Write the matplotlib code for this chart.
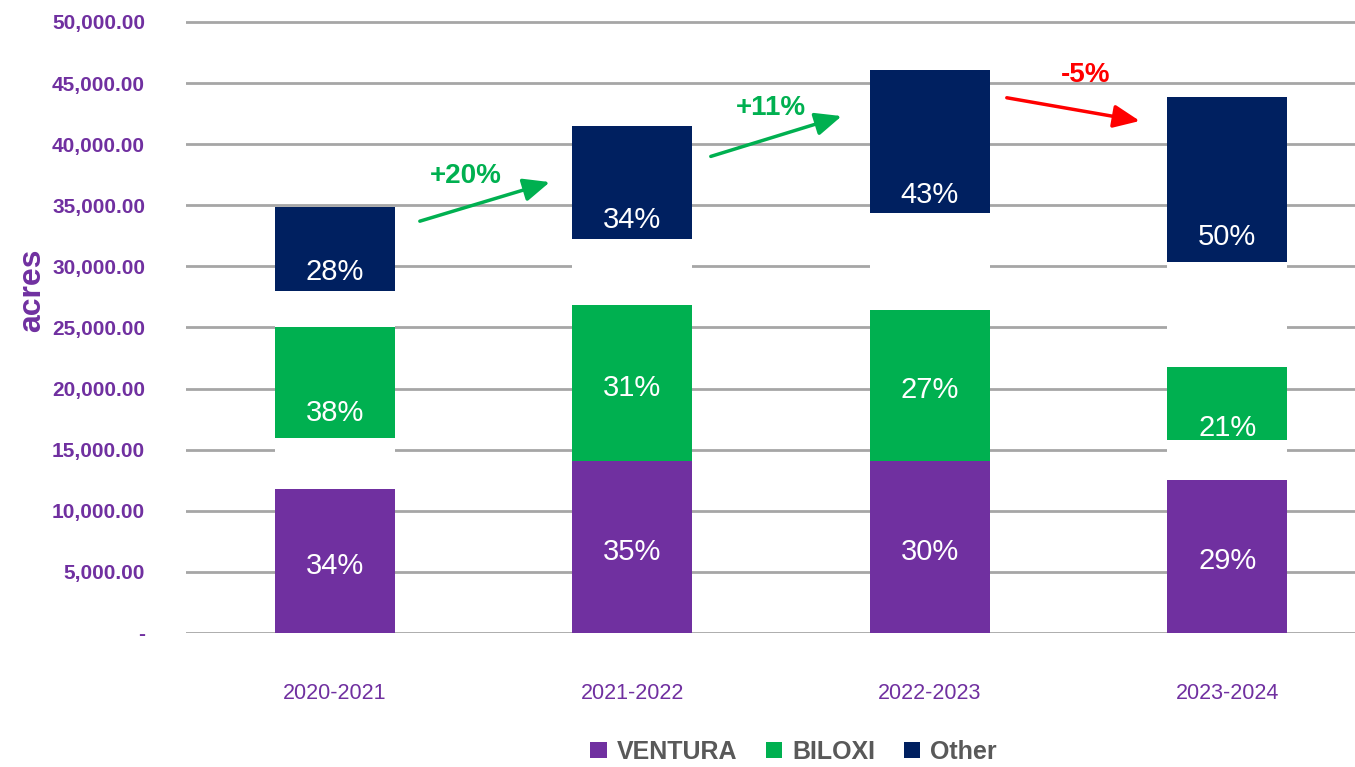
import matplotlib
matplotlib.use("Agg")
import matplotlib.pyplot as plt
from matplotlib.ticker import FuncFormatter

# ---- data (acres) ----
years = ["2020-2021", "2021-2022", "2022-2023", "2023-2024"]
ventura = [11780, 14080, 14080, 12520]
spacer1 = [4180, 0, 0, 3270]
biloxi = [9080, 12760, 12350, 5980]
spacer2 = [2950, 5400, 7940, 8590]
other = [6870, 9250, 11700, 13500]
ventura_pct = ["34%", "35%", "30%", "29%"]
biloxi_pct = ["38%", "31%", "27%", "21%"]
other_pct = ["28%", "34%", "43%", "50%"]
changes = ["+20%", "+11%", "-5%"]
change_colors = ["#00B050", "#00B050", "#FF0000"]

PURPLE = "#7030A0"
GREEN = "#00B050"
NAVY = "#002060"
GRID = "#A6A6A6"

plt.rcParams["font.family"] = ["Liberation Sans", "DejaVu Sans"]

W, H = 1355, 767
fig = plt.figure(figsize=(W / 100, H / 100), dpi=100)
ymax = 50300
ppu = 611 / 50000
top_px = 633 - ymax * ppu
ax = fig.add_axes([186 / W, (H - 633) / H, 1190 / W, (633 - top_px) / H])

x = list(range(len(years)))
bw = 0.403
b0 = [0] * 4
b1 = [v for v in ventura]
b2 = [b1[i] + spacer1[i] for i in x]
b3 = [b2[i] + biloxi[i] for i in x]
b4 = [b3[i] + spacer2[i] for i in x]

ax.bar(x, ventura, bw, bottom=b0, color=PURPLE, zorder=3, label="VENTURA")
ax.bar(x, spacer1, bw, bottom=b1, color="white", zorder=3)
ax.bar(x, biloxi, bw, bottom=b2, color=GREEN, zorder=3, label="BILOXI")
ax.bar(x, spacer2, bw, bottom=b3, color="white", zorder=3)
ax.bar(x, other, bw, bottom=b4, color=NAVY, zorder=3, label="Other")

off = -400
lab_kw = dict(ha="center", va="center", color="white", fontsize=21, zorder=5)
for i in x:
    ax.text(i, ventura[i] / 2 + off, ventura_pct[i], **lab_kw)
    ax.text(i, b1[i] + (spacer1[i] + biloxi[i]) / 2 + off, biloxi_pct[i], **lab_kw)
    ax.text(i, b3[i] + (spacer2[i] + other[i]) / 2 + off, other_pct[i], **lab_kw)

# change arrows between bars
arrows = [((0.286, 33700), (0.723, 36900), (0.44, 37400)),
          ((1.264, 39000), (1.704, 42300), (1.466, 43000)),
          ((2.259, 43800), (2.706, 41900), (2.524, 45700))]
for (s, e, t), lab, c in zip(arrows, changes, change_colors):
    ax.annotate("", xy=e, xytext=s,
                arrowprops=dict(arrowstyle="-|>,head_length=1.6,head_width=0.7",
                                color=c, lw=2.5, shrinkA=0, shrinkB=0), zorder=6)
    ax.text(t[0], t[1], lab, color=c, fontsize=20, fontweight="bold",
            ha="center", va="center", zorder=6)

ax.set_xlim(-0.5, 3.5)
ax.set_ylim(0, ymax)
ax.set_yticks(range(0, 50001, 5000))
ax.yaxis.set_major_formatter(FuncFormatter(lambda v, p: "-" if v == 0 else f"{v:,.2f}"))
ax.set_xticks(x)
ax.set_xticklabels(years)
for sp in ax.spines.values():
    sp.set_visible(False)
ax.grid(axis="y", color=GRID, lw=2, zorder=0)
ax.tick_params(axis="both", length=0)
ax.tick_params(axis="y", pad=29.5, labelsize=15, labelcolor=PURPLE)
ax.tick_params(axis="x", pad=36, labelsize=15.5, labelcolor=PURPLE)
for t in ax.get_yticklabels():
    t.set_fontweight("bold")
ax.set_ylabel("acres", color=PURPLE, fontsize=23, fontweight="bold")
ax.yaxis.set_label_coords(-0.117, 0.558)

leg = fig.legend(loc="center", bbox_to_anchor=(0.5856, 0.02), ncol=3, frameon=False,
                 handlelength=0.65, handleheight=0.65, handletextpad=0.4, columnspacing=1.15,
                 prop=dict(weight="bold", size=18))
for t in leg.get_texts():
    t.set_color("#595959")

fig.savefig("out.png", dpi=100)
